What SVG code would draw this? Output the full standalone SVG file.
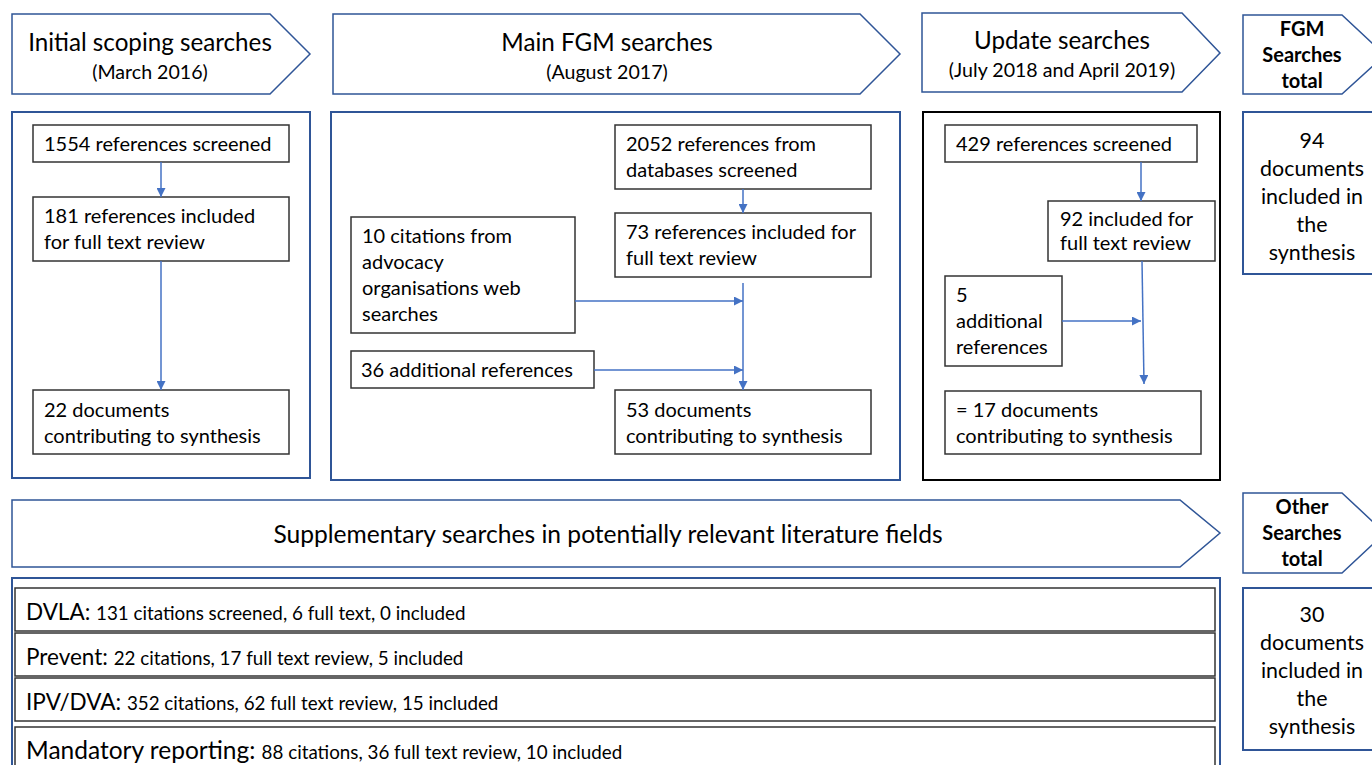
<svg xmlns="http://www.w3.org/2000/svg" width="1372" height="765" viewBox="0 0 1372 765">
<defs>
<style>
text{font-family:Lato,"Open Sans","Liberation Sans",sans-serif;fill:#000}
.hd{fill:#fff;stroke:#2F5597;stroke-width:1.5}
.ob{fill:#fff;stroke:#2F5597;stroke-width:2}
.obk{fill:#fff;stroke:#000;stroke-width:2}
.ib{fill:#fff;stroke:#333;stroke-width:1.5}
.c{stroke:#4472C4;stroke-width:1.5;fill:none}
.t20{font-size:20px}
.tot{font-size:21.4px}
.h1{font-size:24.2px}
.h2{font-size:19.6px}
.t22{font-size:22.5px}
.t24{font-size:24.5px}
.t17{font-size:18.8px}
.sup{font-size:24.6px}
.b{font-size:20px;font-weight:bold}
</style>
<marker id="ah" viewBox="0 0 10 10" refX="10" refY="5" markerWidth="9" markerHeight="9" markerUnits="userSpaceOnUse" orient="auto">
<path d="M0,0 L10,5 L0,10 z" fill="#4472C4"/>
</marker>
</defs>
<rect width="1372" height="765" fill="#fff"/>

<g id="hdr-initial">
<polygon class="hd" points="12,14 270,14 310,54 270,94 12,94"/>
<text class="h1" x="150" y="51" text-anchor="middle">Initial scoping searches</text>
<text class="h2" x="150" y="79" text-anchor="middle">(March 2016)</text>
</g>
<g id="hdr-main">
<polygon class="hd" points="333,14 860,14 900,54 860,94 333,94"/>
<text class="h1" x="607" y="51" text-anchor="middle">Main FGM searches</text>
<text class="h2" x="607" y="79" text-anchor="middle">(August 2017)</text>
</g>
<g id="hdr-update">
<polygon class="hd" points="922,13 1182,13 1220,53 1182,92 922,92"/>
<text class="h1" x="1062" y="49" text-anchor="middle">Update searches</text>
<text class="h2" x="1062" y="77" text-anchor="middle">(July 2018 and April 2019)</text>
</g>
<g id="hdr-fgmtotal">
<polygon class="hd" points="1243,15 1342,15 1385,55 1342,94 1243,94"/>
<text class="b" x="1302" y="36" text-anchor="middle">FGM</text>
<text class="b" x="1302" y="62" text-anchor="middle">Searches</text>
<text class="b" x="1302" y="88" text-anchor="middle">total</text>
</g>

<g id="panel-initial"><rect class="ob" x="12" y="112" width="298" height="366"/></g>
<g id="panel-main"><rect class="ob" x="331" y="112" width="569" height="368"/></g>
<g id="panel-update"><rect class="obk" x="923" y="112" width="297" height="368"/></g>

<g id="fgm-total">
<rect class="ob" x="1243" y="112" width="140" height="162"/>
<text class="tot" text-anchor="middle" x="1312"><tspan x="1312" y="148">94</tspan><tspan x="1312" y="176">documents</tspan><tspan x="1312" y="204">included in</tspan><tspan x="1312" y="232">the</tspan><tspan x="1312" y="260">synthesis</tspan></text>
</g>

<g id="n1554"><rect class="ib" x="33" y="125" width="256" height="37"/><text class="t20" x="44" y="151">1554 references screened</text></g>
<g id="n181"><rect class="ib" x="33" y="197" width="256" height="64"/><text class="t20" x="44" y="223">181 references included</text><text class="t20" x="44" y="249">for full text review</text></g>
<g id="n22"><rect class="ib" x="33" y="390" width="256" height="64"/><text class="t20" x="44" y="417">22 documents</text><text class="t20" x="44" y="443">contributing to synthesis</text></g>

<g id="n2052"><rect class="ib" x="615" y="125" width="256" height="64"/><text class="t20" x="626" y="151">2052 references from</text><text class="t20" x="626" y="177">databases screened</text></g>
<g id="n73"><rect class="ib" x="615" y="213" width="256" height="64"/><text class="t20" x="626" y="239">73 references included for</text><text class="t20" x="626" y="265">full text review</text></g>
<g id="n10"><rect class="ib" x="351" y="217" width="224" height="116"/><text class="t20" x="362" y="243">10 citations from</text><text class="t20" x="362" y="269">advocacy</text><text class="t20" x="362" y="295">organisations web</text><text class="t20" x="362" y="321">searches</text></g>
<g id="n36"><rect class="ib" x="351" y="351" width="243" height="37"/><text class="t20" x="361" y="377">36 additional references</text></g>
<g id="n53"><rect class="ib" x="615" y="390" width="256" height="64"/><text class="t20" x="626" y="417">53 documents</text><text class="t20" x="626" y="443">contributing to synthesis</text></g>

<g id="n429"><rect class="ib" x="945" y="125" width="252" height="37"/><text class="t20" x="956" y="151">429 references screened</text></g>
<g id="n92"><rect class="ib" x="1048" y="201" width="167" height="60"/><text class="t20" x="1060" y="226">92 included for</text><text class="t20" x="1060" y="250">full text review</text></g>
<g id="n5"><rect class="ib" x="945" y="276" width="117" height="90"/><text class="t20" x="956" y="302">5</text><text class="t20" x="956" y="328">additional</text><text class="t20" x="956" y="354">references</text></g>
<g id="n17"><rect class="ib" x="945" y="391" width="256" height="63"/><text class="t20" x="956" y="417">= 17 documents</text><text class="t20" x="956" y="443">contributing to synthesis</text></g>

<g id="connectors">
<line class="c" x1="161" y1="162" x2="161" y2="197" marker-end="url(#ah)"/>
<line class="c" x1="161" y1="261" x2="161" y2="390" marker-end="url(#ah)"/>
<line class="c" x1="743" y1="189" x2="743" y2="213" marker-end="url(#ah)"/>
<line class="c" x1="743" y1="283" x2="743" y2="390" marker-end="url(#ah)"/>
<line class="c" x1="575" y1="301" x2="743" y2="301" marker-end="url(#ah)"/>
<line class="c" x1="594" y1="370" x2="743" y2="370" marker-end="url(#ah)"/>
<line class="c" x1="1141" y1="162" x2="1141" y2="201" marker-end="url(#ah)"/>
<line class="c" x1="1142" y1="261" x2="1144" y2="384" marker-end="url(#ah)"/>
<line class="c" x1="1062" y1="321" x2="1141" y2="321" marker-end="url(#ah)"/>
</g>

<g id="hdr-supp">
<polygon class="hd" points="12,500 1180,500 1220,533 1180,567 12,567"/>
<text class="sup" x="608" y="543" text-anchor="middle">Supplementary searches in potentially relevant literature fields</text>
</g>
<g id="hdr-othertotal">
<polygon class="hd" points="1243,493 1342,493 1385,533 1342,573 1243,573"/>
<text class="b" x="1302" y="514" text-anchor="middle">Other</text>
<text class="b" x="1302" y="540" text-anchor="middle">Searches</text>
<text class="b" x="1302" y="566" text-anchor="middle">total</text>
</g>
<g id="other-total">
<rect class="ob" x="1243" y="588" width="140" height="162"/>
<text class="tot" text-anchor="middle" x="1312"><tspan x="1312" y="622">30</tspan><tspan x="1312" y="650">documents</tspan><tspan x="1312" y="678">included in</tspan><tspan x="1312" y="706">the</tspan><tspan x="1312" y="734">synthesis</tspan></text>
</g>

<g id="panel-supp"><rect class="ob" x="12" y="578" width="1208" height="200"/></g>
<g id="row-dvla"><rect class="ib" x="15" y="588" width="1200" height="43"/><text x="26" y="620"><tspan class="t22">DVLA: </tspan><tspan class="t17">131 citations screened, 6 full text, 0 included</tspan></text></g>
<g id="row-prevent"><rect class="ib" x="15" y="633" width="1200" height="43"/><text x="26" y="665"><tspan class="t22">Prevent: </tspan><tspan class="t17">22 citations, 17 full text review, 5 included</tspan></text></g>
<g id="row-ipv"><rect class="ib" x="15" y="678" width="1200" height="43"/><text x="26" y="710"><tspan class="t22">IPV/DVA: </tspan><tspan class="t17">352 citations, 62 full text review, 15 included</tspan></text></g>
<g id="row-mandatory"><rect class="ib" x="15" y="727" width="1200" height="50"/><text x="26" y="759"><tspan class="t24">Mandatory reporting: </tspan><tspan class="t17">88 citations, 36 full text review, 10 included</tspan></text></g>
</svg>
